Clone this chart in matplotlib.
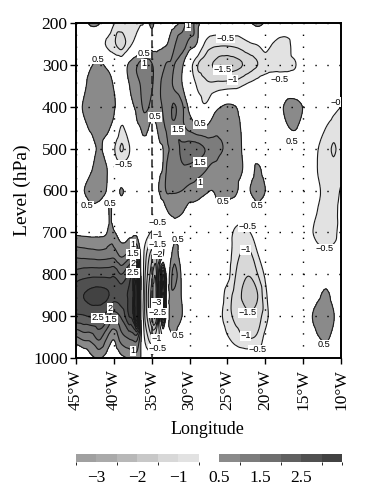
import matplotlib
matplotlib.use('Agg')
import numpy as np
import matplotlib.pyplot as plt
from matplotlib.colors import ListedColormap, BoundaryNorm
from matplotlib.colorbar import ColorbarBase
from matplotlib.tri import Triangulation, UniformTriRefiner, CubicTriInterpolator

plt.rcParams['font.family'] = ['Liberation Serif', 'DejaVu Serif']

# grid of the field
longitudes = [-45, -44, -43, -42, -41, -40.5, -40, -39, -38, -37.5, -37,
              -36.5, -36, -35.5, -35, -34.5, -34, -33.5, -33, -32.5,
              -32, -31, -30, -29, -28, -27, -26, -25, -24, -23, -22, -21,
              -20, -19, -18, -17, -16, -15, -14, -13, -12, -11, -10]
levels_hpa = [200, 250, 300, 350, 400, 450, 500, 550, 600, 650, 700, 750, 800, 850, 900, 950, 1000]

anomaly = [
    [.1, .3, .6, .55, .1, 0, -.45, -.7, -.85, -.75, -.65,
     -.55, -.45, .3, .6, .4, .25, .2, .25, .3,
     .35, .65, 1.3, .7, .2, .1, .1, .1, .1, .1, .45, .7, .45, .1, .1, .1, .1, .1, .1, .1, .1, .1, .1],
    [0, 0, 0, -.2, -.55, -.75, -.9, -1.25, -.7, -.45, -.25,
     -.1, .1, .2, .3, .35, .4, .42, .48, .7,
     .95, 1.25, .8, .45, -.55, -.85, -.9, -.9, -.85, -.7, -.55, -.45, -.2, -.52, -.7, -.65, -.1, 0, 0, 0, 0, 0, 0],
    [0, .2, .45, .65, .4, .25, .1, 0, .6, .8, .95,
     1.15, 1.25, 1.25, 1.05, .85, .8, .9, 1.05, 1.05,
     1.0, .6, -.2, -.95, -1.2, -1.5, -1.7, -1.75, -1.65, -1.5, -1.2, -1.0, -.75, -.7, -.7, -.65, -.52, -.1, 0, 0, 0, 0, 0],
    [0, .35, .75, .9, .85, .7, .45, 0, .47, .65, .8,
     1.0, 1.25, 1.3, 1.05, .9, .95, 1.1, 1.2, 1.1,
     .9, .53, .1, -.55, -.8, -.85, -.75, -.7, -.65, -.5, -.35, -.2, -.1, 0, 0, 0, 0, 0, 0, 0, 0, 0, 0],
    [.3, .55, .9, .95, .95, .85, .6, .1, .3, .45, .6,
     .85, 1.1, 1.05, .8, .8, .9, 1.05, 1.3, 1.45,
     1.55, 1.1, .35, -.1, -.4, .2, .47, .62, .53, .2, 0, 0, 0, 0, .35, .7, .7, .47, 0, 0, 0, -.3, -.5],
    [.15, .35, .6, .75, .65, .5, .3, -.55, -.1, .15, .4,
     .5, .7, .55, .3, .4, .7, .9, 1.1, 1.35,
     1.45, 1.15, .85, .6, .55, .7, .85, .85, .75, .4, .1, 0, 0, 0, .1, .47, .55, .2, 0, -.2, -.5, -.75, -.85],
    [0, 0, .2, .58, .3, .1, -.4, -1.05, -.55, -.25, 0,
     .1, .2, .2, .2, .3, .4, .5, .9, 1.05,
     1.2, 1.6, 1.75, 1.7, 1.5, 1.25, 1.05, .95, .85, .45, .1, 0, 0, 0, 0, 0, 0, 0, -.05, -.5, -.75, -1.05, -.8],
    [0, .1, .45, .8, .55, .3, .1, -.25, -.2, -.1, 0,
     0, .1, .1, .2, .3, .4, .55, 1.05, 1.2,
     1.3, 1.4, 1.35, 1.2, 1.05, .85, .8, .8, .75, .5, .2, .65, .2, 0, 0, 0, 0, 0, 0, -.55, -.8, -.85, -.8],
    [.3, .47, .9, .85, .5, .3, .2, .55, .2, .1, 0,
     0, .1, .2, .3, .4, .52, .8, 1.05, 1.05,
     1.05, 1.0, .85, .75, .6, .5, .7, .75, .65, .25, .5, .9, .5, .1, 0, 0, 0, 0, 0, -.4, -.7, -.75, -.45],
    [0, .2, .3, .2, .1, .6, .2, .1, 0, 0, 0,
     0, 0, .05, .05, .05, .05, .1, .45, .6,
     .65, .55, .25, .25, .15, .2, .2, .2, 0, 0, 0, .2, 0, 0, 0, 0, 0, 0, -.1, -.55, -.75, -.7, -.3],
    [.4, .38, .37, .37, .45, .75, .55, .35, .35, .35, .35,
     .15, -.1, -.35, -.55, -.6, -.3, 0, .1, .1,
     .3, .15, .1, 0, 0, 0, 0, -.2, -.6, -.75, -.5, -.2, 0, 0, 0, 0, 0, 0, -.4, -.7, -.8, -.7, -.2],
    [1.3, 1.25, 1.2, 1.15, 1.2, 1.25, 1.25, .8, 1.1, 1.3, 1.6,
     .5, -.55, -1.2, -1.7, -2.1, -1.8, -.6, .1, .35,
     .75, .1, 0, 0, 0, 0, 0, -.2, -.75, -1.05, -1.05, -.5, -.1, 0, 0, 0, 0, 0, -.1, -.3, -.3, -.3, -.1],
    [2.2, 2.3, 2.35, 2.35, 2.35, 2.35, 2.4, 2.0, 2.6, 3.2, 4,
     .8, -.7, -1.6, -2.3, -2.9, -.5, 2.5, .15, .8,
     1.2, .4, 0, 0, 0, 0, 0, -.3, -.95, -1.35, -1.45, -1.0, -.4, 0, 0, 0, 0, 0, 0, 0, 0, 0, 0],
    [2.75, 3.0, 3.15, 3.2, 3.1, 2.95, 2.7, 2.8, 3.1, 3.4, 5,
     .9, -.8, -1.9, -2.7, -3.3, 0, 3.5, .15, .85,
     .9, .45, 0, 0, 0, 0, -.2, -.75, -1.15, -1.55, -1.8, -1.5, -.65, -.1, 0, 0, 0, 0, 0, .35, .7, .25, 0],
    [2.4, 2.45, 2.55, 2.55, 2.3, 1.9, 1.75, 2.1, 3.0, 3.3, 5,
     .9, -.8, -1.7, -2.5, -3.0, -.5, 2.5, .15, .85,
     .85, .5, 0, 0, 0, 0, -.35, -.8, -1.1, -1.25, -1.4, -1.2, -.75, -.15, 0, 0, 0, 0, .4, .85, .95, .55, 0],
    [.95, 1.2, 1.25, 1.65, 1.1, .75, .6, 1.3, 1.6, 1.7, 1.8,
     .8, -.45, -1.0, -1.4, -1.3, -1.0, -.3, .1, .35,
     .45, .1, 0, 0, 0, 0, -.1, -.45, -.75, -.95, -1.05, -.9, -.35, 0, 0, 0, 0, 0, .1, .47, .6, .35, 0],
    [-.4, -.1, .35, .55, .3, .2, 0, .35, .55, .65, .8,
     .55, 0, -.1, -.3, -.2, -.1, 0, 0, 0,
     0, 0, 0, 0, 0, 0, 0, 0, 0, 0, 0, 0, 0, 0, 0, 0, 0, 0, 0, 0, 0, 0, 0],
]

fill_levels = [-3.5, -3, -2.5, -2, -1.5, -1, -.5, .5, 1, 1.5, 2, 2.5, 3, 3.5]
line_levels = fill_levels + [4, 4.5]
fill_colors = ['#a0a0a0', '#aaaaaa', '#b8b8b8', '#c8c8c8', '#d8d8d8', '#e2e2e2', '#ffffff',
               '#8a8a8a', '#7c7c7c', '#6e6e6e', '#606060', '#505050', '#424242']
cbar_ticks = [-3, -2, -1, .5, 1.5, 2.5]
cbar_labels = ['\u22123', '\u22122', '\u22121', '0.5', '1.5', '2.5']

lon_ticks = [-45, -40, -35, -30, -25, -20, -15, -10]
lon_labels = ['45\u00b0W', '40\u00b0W', '35\u00b0W', '30\u00b0W', '25\u00b0W', '20\u00b0W', '15\u00b0W', '10\u00b0W']
lev_ticks = [200, 300, 400, 500, 600, 700, 800, 900, 1000]

# contour labels
label_lons = [-42.1, -36.0, -36.0, -34.6, -31.5, -28.6, -28.6, -28.6, -30.2, -25.2, -25.6, -24.3, -18.1,
              -16.5, -10.2, -38.7, -43.5, -40.5, -34.2, -31.5, -34.2, -34.2, -34.2, -37.5, -37.5, -37.5,
              -37.5, -40.5, -42.1, -40.4, -34.3, -34.2, -34.3, -34.2, -37.5, -31.5, -25.6, -21.1, -22.3,
              -22.6, -22.4, -22.6, -21.0, -12.2, -12.2]
label_levs = [286, 272, 297, 424, 455, 441, 532, 582, 207, 236, 312, 336, 336,
              482, 389, 539, 637, 630, 677, 716, 704, 728, 752, 728, 751, 774,
              797, 881, 904, 908, 868, 892, 954, 978, 983, 947, 627, 637, 687,
              742, 892, 947, 980, 739, 968]
label_texts = ['0.5', '0.5', '1', '0.5', '1.5', '0.5', '1.5', '1', '1', '\u22120.5', '\u22121.5', '\u22121', '\u22120.5',
               '0.5', '\u22120.5', '\u22120.5', '0.5', '0.5', '\u22120.5', '0.5', '\u22121', '\u22121.5', '\u22122', '1', '1.5', '2',
               '2.5', '2', '2.5', '1.5', '\u22123', '\u22122.5', '\u22121', '\u22120.5', '1', '0.5', '0.5', '0.5', '\u22120.5',
               '\u22121', '\u22121.5', '\u22121', '\u22120.5', '\u22120.5', '0.5']


def smooth_field(lon, lev, z):
    """ refine the coarse grid so the contours come out round
    """
    scale = 18.1
    LON, LEV = np.meshgrid(lon, lev)
    tri = Triangulation(LON.ravel(), LEV.ravel() / scale)
    interp = CubicTriInterpolator(tri, z.ravel(), kind='geom')
    fine, zfine = UniformTriRefiner(tri).refine_field(z.ravel(), interp, subdiv=3)
    return Triangulation(fine.x, fine.y * scale, fine.triangles), zfine


def main():
    fig = plt.figure(figsize=(3.66, 5.0), dpi=100)
    ax = fig.add_axes([76 / 366, 1 - 358 / 500, 265 / 366, 335 / 500])

    cmap = ListedColormap(fill_colors)
    cmap.set_under(fill_colors[0])
    cmap.set_over('#2a2a2a')
    norm = BoundaryNorm(fill_levels, cmap.N)

    tri, z = smooth_field(np.array(longitudes), np.array(levels_hpa), np.array(anomaly, dtype=float))
    ax.tricontourf(tri, z, levels=fill_levels, cmap=cmap, norm=norm, extend='both')
    ax.tricontour(tri, z, levels=line_levels, colors='#1a1a1a', linewidths=0.8, linestyles='solid')

    # dotted grid and the dashed line at 35W
    ax.set_xticks(lon_ticks)
    ax.set_xticklabels(lon_labels, rotation=90, fontsize=12.5)
    ax.set_yticks(lev_ticks)
    ax.tick_params(axis='y', labelsize=12.5, length=4, width=1.0, pad=2)
    ax.tick_params(axis='x', length=4, width=1.0, pad=4)
    ax.grid(True, color='black', linewidth=1.0, linestyle=(0, (1, 7.6)))
    ax.set_axisbelow(False)
    ax.axvline(-35, color='#222222', linewidth=1.1, linestyle=(0, (5.2, 2.6)), zorder=4)

    for lon, lev, txt in zip(label_lons, label_levs, label_texts):
        ax.text(lon, lev, txt, ha='center', va='center', fontsize=6.6, family='Liberation Sans',
                color='black', clip_on=True, zorder=6,
                bbox=dict(facecolor='white', edgecolor='none', pad=0.3))

    ax.set_xlim(-45, -10)
    ax.set_ylim(1000, 200)
    for side in ax.spines.values():
        side.set_linewidth(1.4)

    fig.text(207 / 366, 1 - 430 / 500, 'Longitude', ha='center', va='center', fontsize=13)
    fig.text(22 / 366, 1 - 190 / 500, 'Level (hPa)', rotation=90, ha='center', va='center', fontsize=14)

    # colour bar with the white gap round zero
    cax = fig.add_axes([76 / 366, 1 - 462 / 500, 266 / 366, 8 / 500])
    cb = ColorbarBase(cax, cmap=cmap, norm=norm, boundaries=fill_levels, spacing='uniform',
                      orientation='horizontal', ticks=cbar_ticks)
    cb.set_ticklabels(cbar_labels)
    cb.outline.set_visible(False)
    cax.tick_params(length=0, labelsize=12.5, pad=6)

    fig.savefig('out.png', dpi=100)


if __name__ == "__main__":
    main()
